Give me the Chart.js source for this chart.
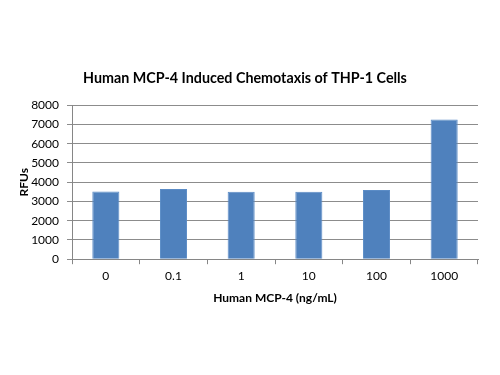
<!DOCTYPE html>
<html>
<head>
<meta charset="utf-8">
<script src="https://cdn.jsdelivr.net/npm/chart.js@4.4.1/dist/chart.umd.min.js"></script>
<style>
html,body{margin:0;padding:0;background:#fff;}
#wrap{width:500px;height:375px;position:relative;}
</style>
</head>
<body>
<div id="wrap"><canvas id="c" width="500" height="375"></canvas></div>
<script>
const categories = ["0", "0.1", "1", "10", "100", "1000"];
const rfuValues = [3520, 3640, 3500, 3500, 3590, 7260];
const yTicks = [0, 1000, 2000, 3000, 4000, 5000, 6000, 7000, 8000];

const FONT = "Lato, 'Open sans', sans-serif";

new Chart(document.getElementById('c'), {
  type: 'bar',
  data: {
    labels: categories,
    datasets: [{
      label: 'RFUs',
      data: rfuValues,
      backgroundColor: '#4F81BD',
      borderColor: '#5B8CC6',
      borderWidth: 1,
      barPercentage: 0.4,
      categoryPercentage: 1.0
    }]
  },
  options: {
    responsive: false,
    animation: false,
    layout: { padding: { left: 12, right: 22, top: 0, bottom: 70 } },
    plugins: {
      legend: { display: false },
      tooltip: { enabled: false },
      title: {
        display: true,
        text: 'Human MCP-4 Induced Chemotaxis of THP-1 Cells',
        color: '#000',
        font: { family: FONT, size: 14.3, weight: 'bold' },
        padding: { top: 70, bottom: 18 }
      }
    },
    scales: {
      x: {
        grid: { drawOnChartArea: false, drawTicks: true, tickLength: 5, color: '#868686' },
        border: { color: '#868686', width: 1 },
        ticks: { color: '#000', font: { family: FONT, size: 12 }, padding: 5 },
        title: {
          display: true,
          text: 'Human MCP-4 (ng/mL)',
          color: '#000',
          font: { family: FONT, size: 12, weight: 'bold' },
          padding: { top: 2, bottom: 0 }
        }
      },
      y: {
        min: 0,
        max: 8000,
        afterBuildTicks: s => { s.ticks = yTicks.map(v => ({ value: v })); },
        grid: { color: '#8c8c8c', drawTicks: true, tickLength: 5 },
        border: { color: '#868686', width: 1 },
        ticks: { color: '#000', font: { family: FONT, size: 12 }, padding: 8, callback: v => String(v) },
        title: {
          display: true,
          text: 'RFUs',
          color: '#000',
          font: { family: FONT, size: 12, weight: 'bold' },
          padding: { top: 5, bottom: 0 }
        },
        afterFit: s => { s.width = 60; }
      }
    }
  }
});
</script>
</body>
</html>
